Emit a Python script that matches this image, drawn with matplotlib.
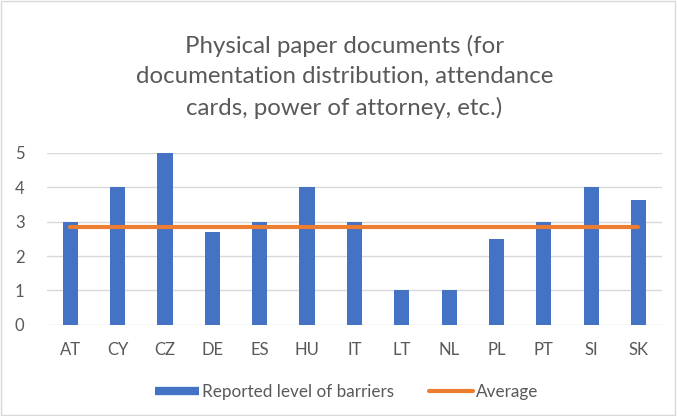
import matplotlib.pyplot as plt
from matplotlib.patches import Rectangle
from matplotlib.lines import Line2D

# 数据
countries = ['AT', 'CY', 'CZ', 'DE', 'ES', 'HU', 'IT', 'LT', 'NL', 'PL', 'PT', 'SI', 'SK']
barriers = [3, 4, 5, 2.7, 3, 4, 3, 1, 1, 2.5, 3, 4, 3.64]
average = [2.83] * len(countries)

plt.rcParams['font.family'] = ['Lato', 'DejaVu Sans']

fig = plt.figure(figsize=(6.77, 4.16), dpi=100)
fig.patches.append(Rectangle((0.002, 0.003), 0.995, 0.994, transform=fig.transFigure,
                             fill=False, edgecolor='#d9d9d9', linewidth=1))
ax = fig.add_axes([0.069, 0.219, 0.909, 0.414])

x = list(range(len(countries)))
ax.bar(x, barriers, width=0.32, color='#4472c4', zorder=2)
ax.plot(x, average, color='#ed7d31', linewidth=3, solid_capstyle='round', zorder=3)

ax.set_xlim(-0.5, len(countries) - 0.5)
ax.set_ylim(0, 5)
ax.set_xticks(x)
ax.set_xticklabels(countries)
ax.set_yticks(range(6))
ax.tick_params(length=0, labelsize=12, labelcolor='#595959')
ax.tick_params(axis='x', pad=12)
ax.tick_params(axis='y', pad=16)
ax.grid(axis='y', color='#d9d9d9', linewidth=1, zorder=0)
for s in ax.spines.values():
    s.set_visible(False)

fig.text(0.509, 0.815, 'Physical paper documents (for\ndocumentation distribution, attendance\ncards, power of attorney, etc.)',
         ha='center', va='center', fontsize=17.3, color='#595959', linespacing=1.55)

handles = [Line2D([0], [0], color='#4472c4', linewidth=6, solid_capstyle='butt'),
           Line2D([0], [0], color='#ed7d31', linewidth=3, solid_capstyle='round')]
fig.legend(handles, ['Reported level of barriers', 'Average'], loc='center',
           bbox_to_anchor=(0.512, 0.058), ncol=2, frameon=False, fontsize=12.3,
           labelcolor='#595959', handlelength=2.6, handletextpad=0.2, columnspacing=2.0)

plt.savefig('out.png', dpi=100)
